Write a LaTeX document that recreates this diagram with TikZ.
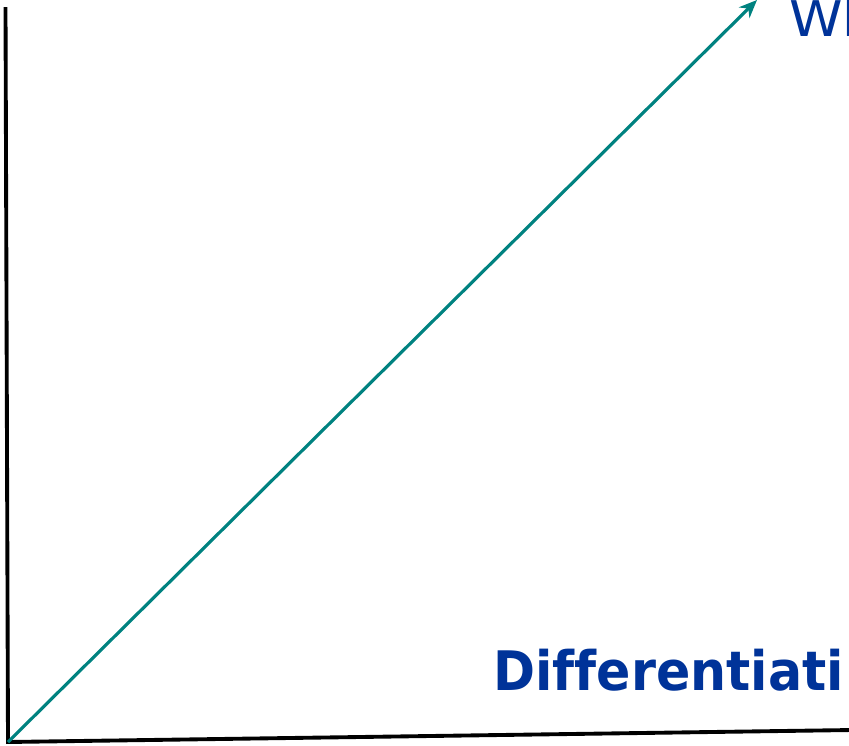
\documentclass[tikz,border=0pt]{standalone}
\usepackage{fontspec}
\setmainfont[Ligatures=NoCommon]{DejaVu Sans}
\usetikzlibrary{positioning, arrows.meta}
\definecolor{axisteal}{RGB}{0,130,128}
\definecolor{labelblue}{RGB}{0,51,153}

\begin{document}
\begin{tikzpicture}[
  x=0.02cm, y=-0.02cm,
  axis/.style={line width=2.2pt, black},
  arr/.style={-{Stealth[length=3.6mm, width=3mm]}, line width=1.8pt, axisteal},
  lbl/.style={text=labelblue, inner sep=0pt, anchor=base west}
]
  \useasboundingbox (0,0) rectangle (849,745);
  \clip (0,0) rectangle (849,745);
  \coordinate (top) at (5.5,7);
  \coordinate (origin) at (8,742);
  \coordinate (right) at (852,730);
  \coordinate (tip) at (757,0);
  \draw[axis] (top) -- (origin) -- (right);
  \draw[arr] (origin) -- (tip);
  \node[lbl, font=\fontsize{28}{32}\selectfont] (what) at (789,36) {\scalebox{1.1}[1]{Wh}};
  \node[lbl, font=\fontsize{31}{38}\selectfont\bfseries] (diff) at (493,690) {\scalebox{0.93}[1]{Differentiati}};
\end{tikzpicture}
\end{document}
